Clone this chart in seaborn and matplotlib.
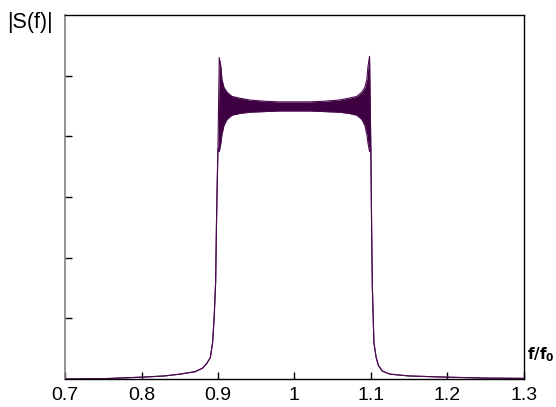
import numpy as np
import pandas as pd
import matplotlib
matplotlib.use("Agg")
import matplotlib.pyplot as plt
import seaborn as sns

# Lower skirt of the spectrum, below the band edge
f_left = [0.700, 0.750, 0.780, 0.800, 0.830, 0.850, 0.870, 0.880, 0.885,
          0.890, 0.893, 0.895, 0.897, 0.898, 0.899, 0.900]
s_left = [0.000, 0.005, 0.020, 0.030, 0.050, 0.080, 0.120, 0.180, 0.250,
          0.350, 0.600, 1.000, 1.600, 2.500, 3.200, 3.800]

# Passband: envelope of the rapid ripple (upper / lower)
f_band = [0.9017, 0.9039, 0.9052, 0.9078, 0.9118, 0.9183, 0.9288, 0.9418,
          0.9614, 0.9800, 1.0000, 1.0200, 1.0386, 1.0582, 1.0712, 1.0817,
          1.0882, 1.0922, 1.0948, 1.0961, 1.0983]
s_upper = [5.30, 5.14, 4.94, 4.81, 4.73, 4.66, 4.63, 4.60, 4.58, 4.57, 4.57,
           4.57, 4.58, 4.60, 4.63, 4.66, 4.73, 4.81, 4.94, 5.14, 5.32]
s_lower = [3.75, 3.90, 4.03, 4.18, 4.28, 4.35, 4.38, 4.40, 4.41, 4.42, 4.42,
           4.42, 4.41, 4.40, 4.38, 4.35, 4.28, 4.18, 4.03, 3.90, 3.75]

# Upper skirt, above the band edge
f_right = [1.100, 1.101, 1.102, 1.104, 1.107, 1.110, 1.115, 1.125, 1.150,
           1.200, 1.250, 1.300]
s_right = [3.800, 2.500, 1.500, 0.600, 0.350, 0.220, 0.130, 0.080, 0.050,
           0.030, 0.015, 0.010]

x_ticks = [0.7, 0.8, 0.9, 1.0, 1.1, 1.2, 1.3]
x_tick_labels = ["0.7", "0.8", "0.9", "1", "1.1", "1.2", "1.3"]

f_all = f_left + f_band + f_right
hi_all = s_left + s_upper + s_right
lo_all = s_left + s_lower + s_right

df = pd.DataFrame({"f": f_all, "upper": hi_all, "lower": lo_all})

sns.set_theme(style="white")
plt.rcParams["font.family"] = ["Liberation Sans", "DejaVu Sans"]

fig = plt.figure(figsize=(5.56, 4.07), dpi=100)
ax = fig.add_axes([0.117, 0.0688, 0.825, 0.894])

color = "#3f0042"
ax.fill_between(df["f"], df["lower"], df["upper"], color=color, linewidth=0)
sns.lineplot(data=df, x="f", y="upper", ax=ax, color="#4a0a50", linewidth=0.8,
             estimator=None, sort=False)
sns.lineplot(data=df, x="f", y="lower", ax=ax, color="#4a0a50", linewidth=0.8,
             estimator=None, sort=False)

ax.set_xlim(0.7, 1.3)
ax.set_ylim(0, 6)
ax.set_xticks(x_ticks)
ax.set_xticklabels(x_tick_labels, fontsize=14, color="black")
ax.set_yticks([1, 2, 3, 4, 5])
ax.set_yticklabels([])
ax.set_xlabel("")
ax.set_ylabel("")
ax.tick_params(axis="both", direction="in", length=5, width=1, colors="black",
               left=True, bottom=True, top=False, right=False, pad=6)

for side in ["top", "right", "bottom"]:
    ax.spines[side].set_color("black")
    ax.spines[side].set_linewidth(1.0)
ax.spines["left"].set_color("#808080")
ax.spines["left"].set_linewidth(1.2)

fig.text(0.013, 0.93, "|S(f)|", fontsize=15.5, color="black")
fig.text(0.948, 0.118, r"$\mathbf{f/f_0}$", fontsize=11, color="black")

fig.savefig("out.png", dpi=100)
